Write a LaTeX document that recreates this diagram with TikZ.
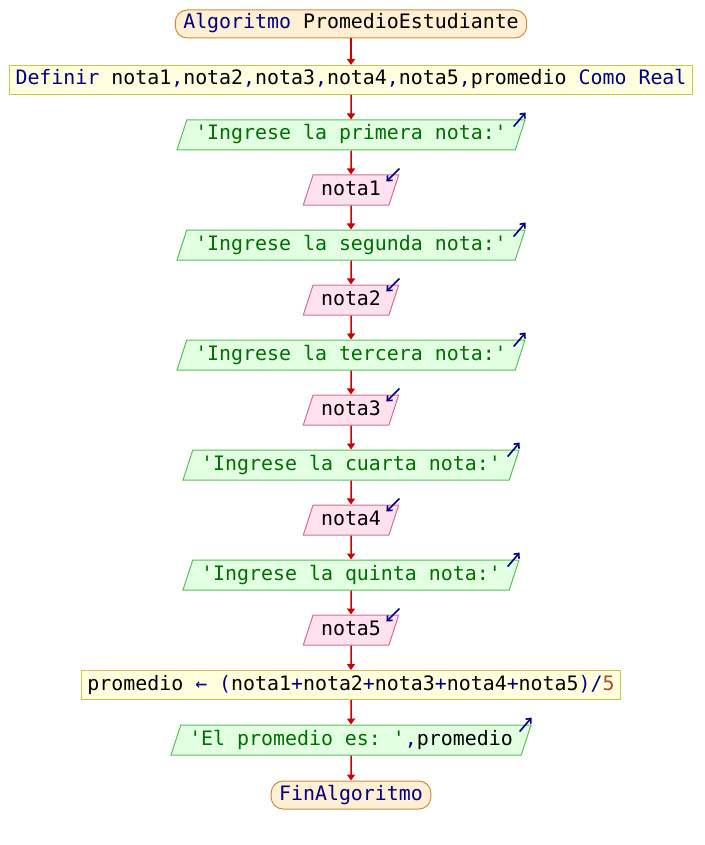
\documentclass[tikz,border=0pt]{standalone}
\usepackage{fontspec}
\setmonofont{DejaVu Sans Mono}
\usetikzlibrary{shapes.geometric,arrows.meta}

\definecolor{inifill}{RGB}{255,240,212}
\definecolor{inidraw}{RGB}{204,140,60}
\definecolor{deffill}{RGB}{255,255,224}
\definecolor{defdraw}{RGB}{200,200,70}
\definecolor{outfill}{RGB}{226,255,226}
\definecolor{outdraw}{RGB}{90,190,90}
\definecolor{infill}{RGB}{255,226,238}
\definecolor{indraw}{RGB}{210,110,150}
\definecolor{navy}{RGB}{0,0,128}
\definecolor{verde}{RGB}{0,110,0}
\definecolor{cafe}{RGB}{160,82,45}
\definecolor{rojo}{RGB}{204,0,0}

\tikzset{
	limite/.style={rectangle, rounded corners=12pt, fill=inifill, draw=inidraw, line width=1pt, text height=15pt, text depth=5pt, inner xsep=8pt, inner ysep=4pt},
	proceso/.style={rectangle, fill=deffill, draw=defdraw, line width=1pt, text height=15pt, text depth=5pt, inner xsep=6pt, inner ysep=4.5pt},
	escribir/.style={trapezium, trapezium left angle=72, trapezium right angle=108, fill=outfill, draw=outdraw, line width=1pt, text height=15pt, text depth=5pt, inner xsep=8.5pt, inner ysep=5pt, text=verde},
	leer/.style={trapezium, trapezium left angle=72, trapezium right angle=108, fill=infill, draw=indraw, line width=1pt, text height=15pt, text depth=5pt, inner xsep=8pt, inner ysep=5pt},
	flecha/.style={draw=rojo, line width=1.5pt, -{Triangle[length=6pt,width=8pt]}},
	icono/.style={draw=navy, line width=1.6pt, -{Straight Barb[length=4pt,width=7pt]}}
}

\begin{document}
\begin{tikzpicture}[x=1pt, y=1pt, font=\ttfamily\fontsize{19.9pt}{24pt}\selectfont]
	\useasboundingbox (0,0) rectangle (704,-845);
	\node[limite](inicio) at (351,-24){\textcolor{navy}{Algoritmo} PromedioEstudiante};
	\node[proceso](definir) at (351,-80){\textcolor{navy}{Definir} nota1\textcolor{navy}{,}nota2\textcolor{navy}{,}nota3\textcolor{navy}{,}nota4\textcolor{navy}{,}nota5\textcolor{navy}{,}promedio \textcolor{navy}{Como Real}};
	\node[escribir](pedirone) at (351,-135){'Ingrese la primera nota:'};
	\node[leer](leerone) at (351,-190){nota1};
	\node[escribir](pedirtwo) at (351,-245){'Ingrese la segunda nota:'};
	\node[leer](leertwo) at (351,-300){nota2};
	\node[escribir](pedirthree) at (351,-355){'Ingrese la tercera nota:'};
	\node[leer](leerthree) at (351,-410){nota3};
	\node[escribir](pedirfour) at (351,-465){'Ingrese la cuarta nota:'};
	\node[leer](leerfour) at (351,-520){nota4};
	\node[escribir](pedirfive) at (351,-575){'Ingrese la quinta nota:'};
	\node[leer](leerfive) at (351,-630){nota5};
	\node[proceso](calculo) at (351,-685){promedio \textcolor{navy}{← (}nota1\textcolor{navy}{+}nota2\textcolor{navy}{+}nota3\textcolor{navy}{+}nota4\textcolor{navy}{+}nota5\textcolor{navy}{)/}\textcolor{cafe}{5}};
	\node[escribir](mostrar) at (351,-740){'El promedio es: '\textcolor{navy}{,}\textcolor{black}{promedio}};
	\node[limite](fin) at (351,-795){\textcolor{navy}{FinAlgoritmo}};
	% conectores
	\draw [flecha] (inicio.south) -- (definir.north);
	\draw [flecha] (definir.south) -- (pedirone.north);
	\draw [flecha] (pedirone.south) -- (leerone.north);
	\draw [flecha] (leerone.south) -- (pedirtwo.north);
	\draw [flecha] (pedirtwo.south) -- (leertwo.north);
	\draw [flecha] (leertwo.south) -- (pedirthree.north);
	\draw [flecha] (pedirthree.south) -- (leerthree.north);
	\draw [flecha] (leerthree.south) -- (pedirfour.north);
	\draw [flecha] (pedirfour.south) -- (leerfour.north);
	\draw [flecha] (leerfour.south) -- (pedirfive.north);
	\draw [flecha] (pedirfive.south) -- (leerfive.north);
	\draw [flecha] (leerfive.south) -- (calculo.north);
	\draw [flecha] (calculo.south) -- (mostrar.north);
	\draw [flecha] (mostrar.south) -- (fin.north);
	% iconos de entrada y salida
	\foreach \n in {pedirone,pedirtwo,pedirthree,pedirfour,pedirfive,mostrar}
		\draw [icono] ([shift={(-12,-7)}]\n.top right corner) -- ++(12,14);
	\foreach \n in {leerone,leertwo,leerthree,leerfour,leerfive}
		\draw [icono] ([shift={(0,6)}]\n.top right corner) -- ++(-13,-13);
\end{tikzpicture}
\end{document}
